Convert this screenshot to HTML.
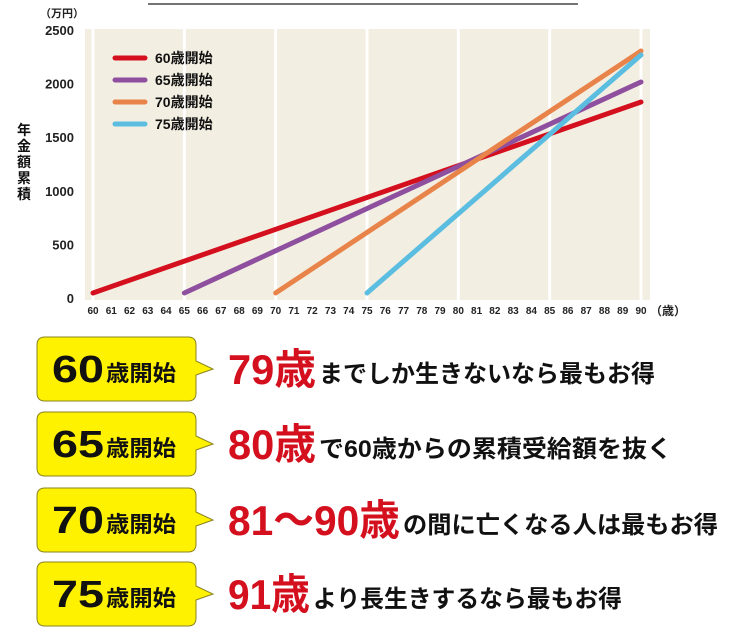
<!DOCTYPE html>
<html><head><meta charset="utf-8"><style>
html,body{margin:0;padding:0;background:#fff;}
svg{display:block;font-family:"Liberation Sans","Noto Sans CJK JP",sans-serif;}
</style></head><body>
<svg id="chart" width="750" height="633" viewBox="0 0 750 633">
<line x1="148" y1="4" x2="578" y2="4" stroke="#222" stroke-width="1.2"/>
<rect x="85" y="29" width="565" height="271" fill="#f3eee2"/>
<g id="seps"></g>
<text x="40" y="17" font-size="11" font-weight="bold" fill="#222">（万円）</text>
<g id="yticks" font-size="13" font-weight="bold" fill="#222" text-anchor="end"></g>
<g id="xticks" font-size="10" font-weight="bold" fill="#222" text-anchor="middle"></g>
<text x="650" y="315" font-size="12" font-weight="bold" fill="#222">（歳）</text>
<g font-size="14" font-weight="bold" fill="#111" text-anchor="middle">
<text x="24" y="135">年</text><text x="24" y="151">金</text><text x="24" y="167">額</text><text x="24" y="183">累</text><text x="24" y="199">積</text>
</g>
<g id="lines"></g>
<g id="legend" font-size="14" font-weight="bold" fill="#111"></g>
<g id="boxes"></g>
</svg>
<script>
const ages=[60,65,70,75];
const startValues=[47,47,47,47];
const endValues=[1828,2015,2304,2267];
const endAge=90;
const yTicks=[0,500,1000,1500,2000,2500];
const xTicks=[60,61,62,63,64,65,66,67,68,69,70,71,72,73,74,75,76,77,78,79,80,81,82,83,84,85,86,87,88,89,90];
const seriesNames=['60歳開始','65歳開始','70歳開始','75歳開始'];
const colors=['#d4101e','#8e4f9e','#e8844a','#5bbde0'];
const sepAges=[60,65,70,75,80,85,90];
const X=a=>93+(a-60)*(641-93)/30;
const Y=v=>298-v*(268/2500);
const NS='http://www.w3.org/2000/svg';
function mk(t,attrs,parent){const e=document.createElementNS(NS,t);for(const k in attrs)e.setAttribute(k,attrs[k]);parent.appendChild(e);return e;}
const seps=document.getElementById('seps');
sepAges.forEach(a=>{const l=mk('rect',{x:X(a)-1.5,y:29,width:3,height:271,fill:'#fff'},seps);

});
const yt=document.getElementById('yticks');
yTicks.forEach(v=>{const t=mk('text',{x:74,y:Y(v)+5},yt);t.textContent=v;

});
const xt=document.getElementById('xticks');
xTicks.forEach(a=>{const t=mk('text',{x:X(a),y:314},xt);t.textContent=a;

});
const lg=document.getElementById('lines');
ages.forEach((a,i)=>{const l=mk('line',{x1:X(a),y1:Y(startValues[i]),x2:X(endAge),y2:Y(endValues[i]),stroke:colors[i],'stroke-width':5,'stroke-linecap':'round'},lg);

});
const leg=document.getElementById('legend');
seriesNames.forEach((n,i)=>{const y=58+i*22;
const l=mk('line',{x1:115,y1:y,x2:145,y2:y,stroke:colors[i],'stroke-width':5,'stroke-linecap':'round'},leg);


const t=mk('text',{x:155,y:y+5},leg);t.textContent=n;

});
const rows=[
['60','79歳','までしか生きないなら最もお得',316,655],
['65','80歳','で60歳からの累積受給額を抜く',316,672],
['70','81〜90歳','の間に亡くなる人は最もお得',400,718],
['75','91歳','より長生きするなら最もお得',310,622]];
const bx=document.getElementById('boxes');
const tops=[337,412,488,562];
rows.forEach((r,i)=>{const t0=tops[i],g=mk('g',{},bx);


const cy=t0+32;
mk('path',{d:`M45 ${t0} H188 Q196 ${t0} 196 ${t0+8} V${cy-8} L213 ${cy} L196 ${cy+6} V${t0+56} Q196 ${t0+64} 188 ${t0+64} H45 Q37 ${t0+64} 37 ${t0+56} V${t0+8} Q37 ${t0} 45 ${t0} Z`,fill:'#fff200',stroke:'#8a8420','stroke-width':1},g);
const a=mk('text',{x:52,y:cy+13,'font-size':38,'font-weight':'bold',fill:'#111',textLength:52,lengthAdjust:'spacingAndGlyphs'},g);a.textContent=r[0];
const b=mk('text',{x:106,y:cy+12,'font-size':22,'font-weight':'bold',fill:'#111',textLength:70,lengthAdjust:'spacingAndGlyphs'},g);b.textContent='歳開始';
const c=mk('text',{x:228,y:cy+15,'font-size':42,'font-weight':'bold',fill:'#d4101e',textLength:r[3]-228,lengthAdjust:'spacingAndGlyphs'},g);c.textContent=r[1];
const d=mk('text',{x:r[3]+3,y:cy+13,'font-size':24,'font-weight':'bold',fill:'#111',textLength:r[4]-r[3]-3,lengthAdjust:'spacingAndGlyphs'},g);d.textContent=r[2];
});
</script>
</body></html>
